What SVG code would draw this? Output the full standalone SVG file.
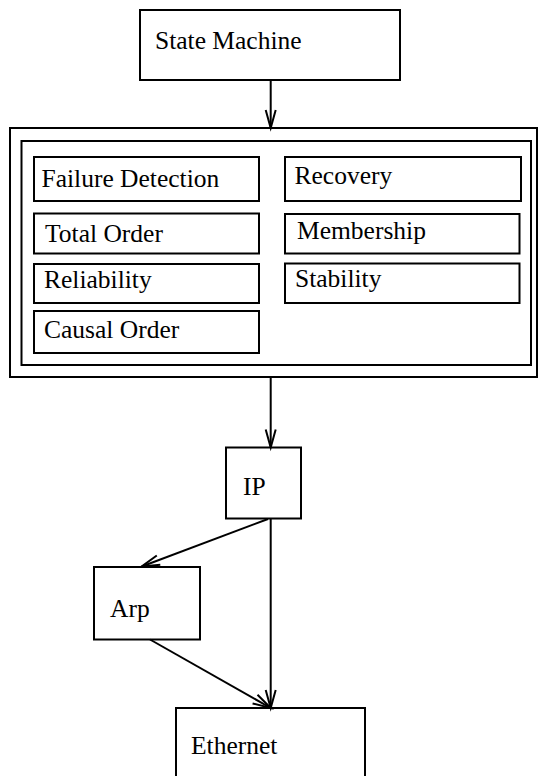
<svg xmlns="http://www.w3.org/2000/svg" width="538" height="776" viewBox="0 0 538 776">
<style>
.box{fill:#fff;stroke:#000;stroke-width:2}
.frame{fill:none;stroke:#000;stroke-width:2}
.lbl{font-size:25.5px;fill:#000}
.edge{fill:none;stroke:#000;stroke-width:2}
</style>
<defs>
<marker id="arr" markerUnits="userSpaceOnUse" markerWidth="24" markerHeight="16" viewBox="-20 -8 24 16" refX="0" refY="0" orient="auto" overflow="visible">
<path d="M-18,-5 L0,0 L-18,5" fill="none" stroke="#000" stroke-width="2"/>
</marker>
</defs>
<g font-family="Liberation Serif, Times New Roman, serif">
<g id="state-machine"><rect class="box" x="140" y="10" width="260" height="70"/><text class="lbl" x="155" y="49">State Machine</text></g>
<g id="stack"><rect class="frame" x="10" y="128" width="527" height="249"/><rect class="frame" x="21.5" y="141" width="509.5" height="224"/></g>
<g id="failure-detection"><rect class="box" x="34" y="157" width="225" height="44"/><text class="lbl" x="41.5" y="186.5">Failure Detection</text></g>
<g id="recovery"><rect class="box" x="285" y="157" width="236" height="44"/><text class="lbl" x="294.5" y="184">Recovery</text></g>
<g id="total-order"><rect class="box" x="34" y="213.5" width="225" height="40"/><text class="lbl" x="45" y="241.5">Total Order</text></g>
<g id="membership"><rect class="box" x="285" y="214" width="234.5" height="39.5"/><text class="lbl" x="297" y="239">Membership</text></g>
<g id="reliability"><rect class="box" x="34" y="264" width="225" height="39"/><text class="lbl" x="44" y="288">Reliability</text></g>
<g id="stability"><rect class="box" x="285" y="263.5" width="234.5" height="39.5"/><text class="lbl" x="295" y="286.5">Stability</text></g>
<g id="causal-order"><rect class="box" x="34" y="311" width="225" height="42"/><text class="lbl" x="44" y="338">Causal Order</text></g>
<g id="ip"><rect class="box" x="226" y="447.5" width="75" height="71"/><text class="lbl" x="243" y="495">IP</text></g>
<g id="arp"><rect class="box" x="94" y="567" width="106" height="72.5"/><text class="lbl" x="110" y="617">Arp</text></g>
<g id="ethernet"><rect class="box" x="176" y="708" width="189" height="82"/><text class="lbl" x="191" y="754">Ethernet</text></g>
</g>
<g id="connectors">
<line class="edge" x1="270.7" y1="80" x2="270.7" y2="128" marker-end="url(#arr)"/>
<line class="edge" x1="270.7" y1="377" x2="270.7" y2="447.5" marker-end="url(#arr)"/>
<line class="edge" x1="268" y1="519" x2="141.7" y2="566.5" marker-end="url(#arr)"/>
<line class="edge" x1="270.7" y1="518.5" x2="270.7" y2="708" marker-end="url(#arr)"/>
<line class="edge" x1="150" y1="639.5" x2="270.7" y2="708" marker-end="url(#arr)"/>
</g>
</svg>
